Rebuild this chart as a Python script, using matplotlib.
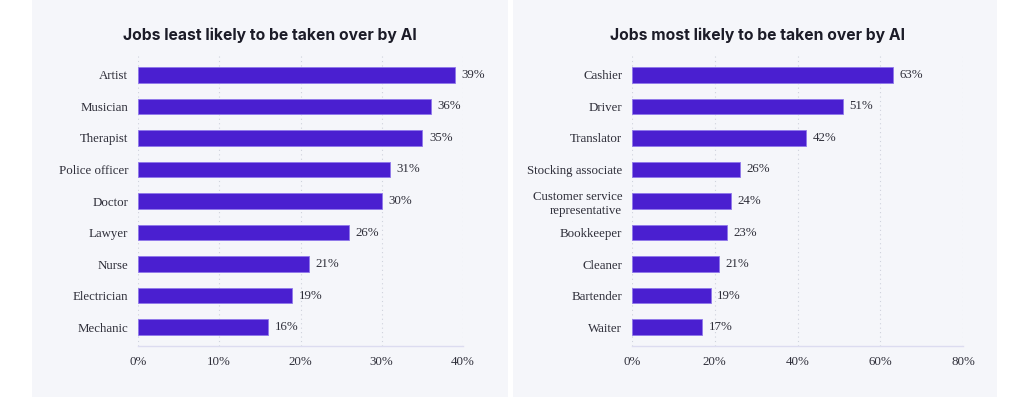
import matplotlib
matplotlib.use("Agg")
import matplotlib.pyplot as plt
from matplotlib.patches import Rectangle

# Data
least_jobs = ["Artist", "Musician", "Therapist", "Police officer", "Doctor",
              "Lawyer", "Nurse", "Electrician", "Mechanic"]
least_vals = [39, 36, 35, 31, 30, 26, 21, 19, 16]
least_ticks = [0, 10, 20, 30, 40]

most_jobs = ["Cashier", "Driver", "Translator", "Stocking associate",
             "Customer service\nrepresentative", "Bookkeeper", "Cleaner",
             "Bartender", "Waiter"]
most_vals = [63, 51, 42, 26, 24, 23, 21, 19, 17]
most_ticks = [0, 20, 40, 60, 80]

BAR = "#4A1FD0"
PANEL = "#F5F6FA"
TEXT = "#2f2f3a"
SERIF = ["Liberation Serif", "DejaVu Serif"]

fig = plt.figure(figsize=(10.24, 3.98), dpi=100)
fig.patch.set_facecolor("white")

# panel backgrounds (pixel coords -> figure fraction)
W, H = 1024, 398
for x0, x1 in [(32, 508), (513, 997)]:
    fig.patches.append(Rectangle((x0 / W, 1 - 397 / H), (x1 - x0) / W, 397 / H,
                                 transform=fig.transFigure, facecolor=PANEL,
                                 edgecolor="none", zorder=-5))


def draw_panel(rect, jobs, vals, ticks, title, title_x):
    ax = fig.add_axes(rect)
    ax.set_zorder(2)
    ax.set_facecolor("none")
    y = list(range(len(jobs)))
    ax.barh(y, vals, height=0.5, color=BAR, edgecolor="#8f78ea",
            linewidth=0.6, zorder=3)
    ax.set_ylim(len(jobs) - 0.4, -0.6)
    ax.set_xlim(ticks[0], ticks[-1])
    ax.set_yticks(y)
    ax.set_yticklabels(jobs, family=SERIF, fontsize=9.3, color=TEXT,
                       linespacing=1.25)
    ax.set_xticks(ticks)
    ax.set_xticklabels([f"{t}%" for t in ticks], family=SERIF, fontsize=9.3,
                       color=TEXT)
    ax.tick_params(axis="both", length=0, pad=7)
    ax.tick_params(axis="x", pad=7)
    ax.grid(axis="x", linestyle=(0, (1, 3)), color="#cfd2dc", linewidth=0.8,
            zorder=0)
    for s in ["top", "right", "left"]:
        ax.spines[s].set_visible(False)
    ax.spines["bottom"].set_color("#dcdcf0")
    ax.spines["bottom"].set_linewidth(1.0)
    span = ticks[-1] - ticks[0]
    for yi, v in zip(y, vals):
        ax.text(v + span * 0.02, yi, f"{v}%", va="center", ha="left",
                family=SERIF, fontsize=9.3, color=TEXT)
    fig.text(title_x, 1 - 35 / H, title, ha="center", va="center",
             family=["Inter", "DejaVu Sans"], fontweight="bold", fontsize=11.3,
             color="#1c1c28", zorder=3)
    return ax


bottom = 1 - 346 / H
height = (346 - 56) / H
draw_panel([138 / W, bottom, (463 - 138) / W, height], least_jobs, least_vals,
           least_ticks, "Jobs least likely to be taken over by AI", 270 / W)
draw_panel([632 / W, bottom, (963 - 632) / W, height], most_jobs, most_vals,
           most_ticks, "Jobs most likely to be taken over by AI", 757 / W)

fig.savefig("out.png", dpi=100)
plt.close(fig)
